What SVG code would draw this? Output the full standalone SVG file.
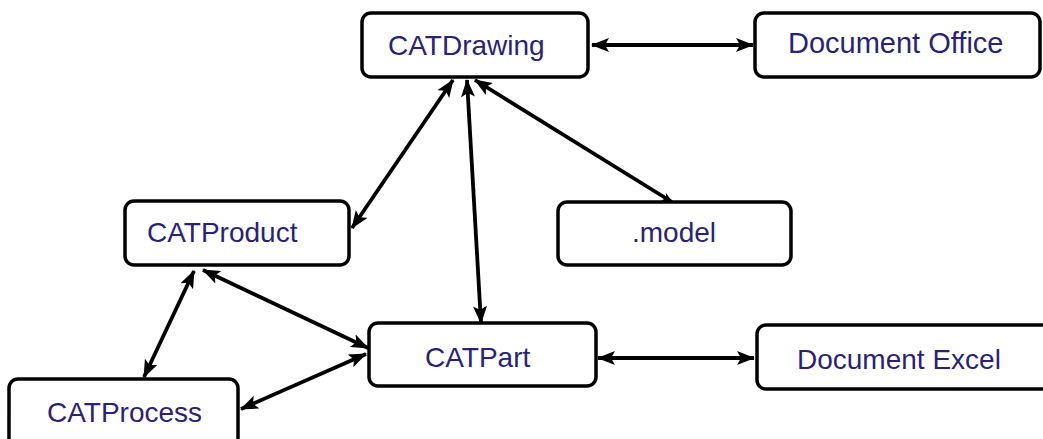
<svg xmlns="http://www.w3.org/2000/svg" width="1043" height="439" viewBox="0 0 1043 439">
<style>
.box{fill:#fff;stroke:#000;stroke-width:3.5}
.lbl{font-family:"Liberation Sans",Arial,sans-serif;font-size:28px;fill:#2a1f7c}
.cn{stroke:#000;stroke-width:3.8;fill:none}
.bi{marker-start:url(#ah);marker-end:url(#ah)}
.uni{marker-end:url(#ahs)}
</style>
<defs>
<marker id="ah" viewBox="0 0 18 14" refX="17" refY="7" markerWidth="18" markerHeight="14" markerUnits="userSpaceOnUse" orient="auto-start-reverse">
<path d="M0,0 L18,7 L0,14 L4,7 Z" fill="#000"/>
</marker>
<marker id="ahs" viewBox="0 0 11 9" refX="10" refY="4.5" markerWidth="11" markerHeight="9" markerUnits="userSpaceOnUse" orient="auto">
<path d="M0,0 L11,4.5 L0,9 L3,4.5 Z" fill="#000"/>
</marker>
</defs>
<rect width="1043" height="439" fill="#fff"/>
<g id="connectors">
<line class="cn bi" x1="592" y1="45" x2="753" y2="45"/>
<line class="cn bi" x1="453" y1="80" x2="352" y2="228"/>
<line class="cn bi" x1="467" y1="80" x2="481" y2="323"/>
<line class="cn uni" x1="475" y1="80" x2="672" y2="202" marker-start="url(#ah)"/>
<line class="cn bi" x1="203" y1="270" x2="368" y2="348"/>
<line class="cn bi" x1="194" y1="271" x2="144" y2="377"/>
<line class="cn bi" x1="366" y1="354" x2="241" y2="409"/>
<line class="cn bi" x1="598" y1="358" x2="754" y2="358"/>
</g>
<g id="node-catdrawing">
<rect class="box" x="362" y="13" width="226" height="64" rx="9"/>
<text class="lbl" x="388" y="55">CATDrawing</text>
</g>
<g id="node-document-office">
<rect class="box" x="755" y="13" width="285" height="64" rx="9"/>
<text class="lbl" x="788" y="53" style="font-size:29px">Document Office</text>
</g>
<g id="node-catproduct">
<rect class="box" x="125" y="201" width="224" height="64" rx="9"/>
<text class="lbl" x="147" y="242">CATProduct</text>
</g>
<g id="node-model">
<rect class="box" x="558" y="202" width="233" height="63" rx="9"/>
<text class="lbl" x="632" y="242">.model</text>
</g>
<g id="node-catpart">
<rect class="box" x="369" y="323" width="227" height="63" rx="9"/>
<text class="lbl" x="425" y="367">CATPart</text>
</g>
<g id="node-document-excel">
<rect class="box" x="757" y="325" width="300" height="64" rx="9"/>
<text class="lbl" x="797" y="369">Document Excel</text>
</g>
<g id="node-catprocess">
<rect class="box" x="9" y="379" width="229" height="72" rx="9"/>
<text class="lbl" x="47" y="422">CATProcess</text>
</g>
</svg>
